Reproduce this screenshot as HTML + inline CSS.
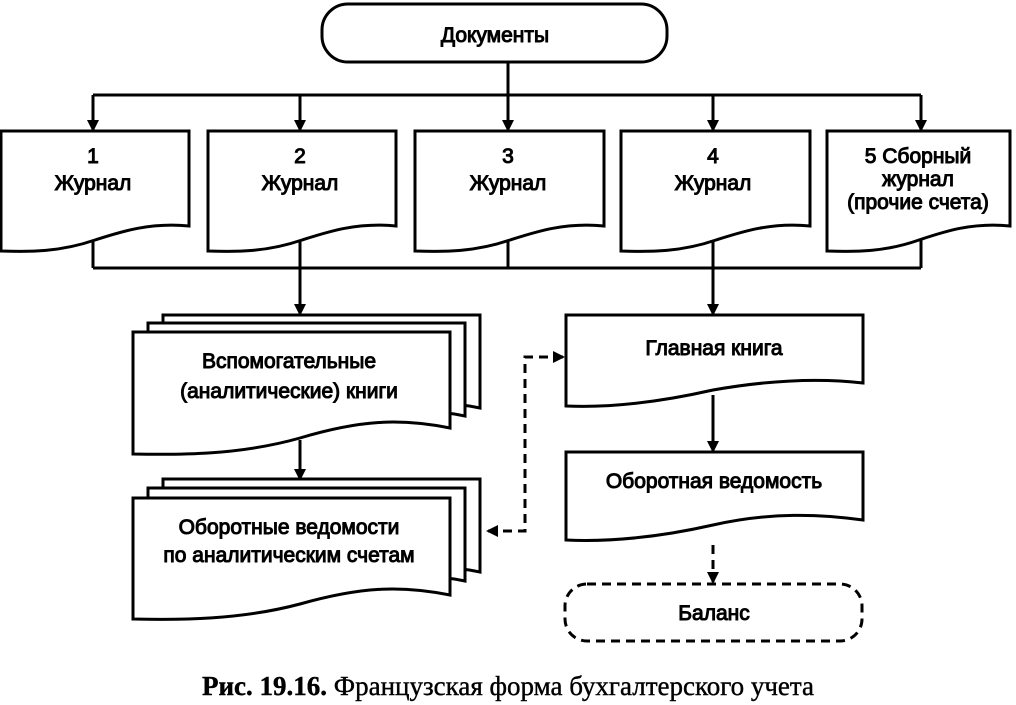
<!DOCTYPE html>
<html><head><meta charset="utf-8"><style>
html,body{margin:0;padding:0;background:#fff;}
svg{display:block;}
text{font-family:"Liberation Sans",Arial,sans-serif;font-size:21px;fill:#000;stroke:#000;stroke-width:1;text-anchor:middle;}
</style></head><body>
<svg width="1016" height="705" viewBox="0 0 1016 705" xmlns="http://www.w3.org/2000/svg">
<defs>
<marker id="ah" markerWidth="12" markerHeight="12" refX="10" refY="6" orient="auto" markerUnits="userSpaceOnUse">
<path d="M0,0 L12,6 L0,12 Z" fill="#000"/></marker>
</defs>
<g fill="#fff" stroke="#000" stroke-width="3">
<rect x="322" y="4" width="345" height="58" rx="26"/>
</g>
<text x="495" y="42">Документы</text>

<g fill="none" stroke="#000" stroke-width="3">
<line x1="508" y1="62" x2="508" y2="95"/>
<line x1="93" y1="95" x2="921" y2="95"/>
<line x1="93" y1="95" x2="93" y2="130" marker-end="url(#ah)"/>
<line x1="300" y1="95" x2="300" y2="130" marker-end="url(#ah)"/>
<line x1="508" y1="95" x2="508" y2="130" marker-end="url(#ah)"/>
<line x1="713" y1="95" x2="713" y2="130" marker-end="url(#ah)"/>
<line x1="921" y1="95" x2="921" y2="130" marker-end="url(#ah)"/>
<line x1="93" y1="240" x2="93" y2="268"/>
<line x1="300" y1="240" x2="300" y2="268"/>
<line x1="508" y1="240" x2="508" y2="268"/>
<line x1="713" y1="240" x2="713" y2="268"/>
<line x1="921" y1="240" x2="921" y2="268"/>
<line x1="93" y1="268" x2="921" y2="268"/>
<line x1="300" y1="268" x2="300" y2="314" marker-end="url(#ah)"/>
<line x1="713" y1="268" x2="713" y2="314" marker-end="url(#ah)"/>
<line x1="300" y1="440" x2="300" y2="479" marker-end="url(#ah)"/>
<line x1="713" y1="395" x2="713" y2="451" marker-end="url(#ah)"/>
</g>

<g fill="#fff" stroke="#000" stroke-width="3">
<path d="M1,131 H189 V226 C150,222 120,232 95,240 C60,252 30,252 1,251 Z"/>
<path d="M208,131 H396 V226 C357,222 327,232 302,240 C267,252 237,252 208,251 Z"/>
<path d="M415,131 H604 V226 C565,222 535,232 510,240 C475,252 445,252 415,251 Z"/>
<path d="M621,131 H810 V226 C771,222 741,232 716,240 C681,252 651,252 621,251 Z"/>
<path d="M827,131 H1010 V226 C972,222 943,232 919,240 C885,252 856,252 827,251 Z"/>
<path d="M163,315 H480 V408 C430,398 395,405 330,415 L163,415 Z"/>
<path d="M148,323 H465 V416 C415,406 380,413 315,423 L148,423 Z"/>
<path d="M133,332 H450 V428 C400,418 360,420 300,438 C240,455 180,455 133,454 Z"/>
<path d="M163,479 H480 V572 C430,562 395,569 330,579 L163,579 Z"/>
<path d="M148,488 H465 V581 C415,571 380,578 315,588 L148,588 Z"/>
<path d="M133,498 H450 V595 C400,585 360,587 300,604 C240,620 180,620 133,619 Z"/>
<path d="M566,315 H863 V383 C820,378 770,380 713,390 C660,402 610,408 566,406 Z"/>
<path d="M566,452 H863 V520 C820,514 770,512 713,525 C660,537 610,542 566,540 Z"/>
</g>

<g fill="none" stroke="#000" stroke-width="3" stroke-dasharray="9,6">
<line x1="713" y1="545" x2="713" y2="582" marker-end="url(#ah)"/>
<rect x="565" y="584" width="297" height="57" rx="22"/>
<polyline points="488,531 525,531 525,357 565,357"/>
</g>
<path d="M565,357 L553,351 L553,363 Z" fill="#000"/>
<path d="M486,531 L498,525 L498,537 Z" fill="#000"/>

<text x="93" y="163">1</text><text x="93" y="190">Журнал</text>
<text x="300" y="163">2</text><text x="300" y="190">Журнал</text>
<text x="508" y="163">3</text><text x="508" y="190">Журнал</text>
<text x="713" y="163">4</text><text x="713" y="190">Журнал</text>
<text x="918" y="163">5 Сборный</text><text x="918" y="186">журнал</text><text x="918" y="209">(прочие счета)</text>
<text x="289" y="368">Вспомогательные</text>
<text x="289" y="398">(аналитические) книги</text>
<text x="289" y="534">Оборотные ведомости</text>
<text x="289" y="562">по аналитическим счетам</text>
<text x="714" y="355">Главная книга</text>
<text x="714" y="488">Оборотная ведомость</text>
<text x="714" y="620">Баланс</text>
<text x="508" y="695" style="font-family:'Liberation Serif',serif;font-size:27px;stroke-width:0.4"><tspan font-weight="bold">Рис. 19.16.</tspan> Французская форма бухгалтерского учета</text>
</svg>
</body></html>
